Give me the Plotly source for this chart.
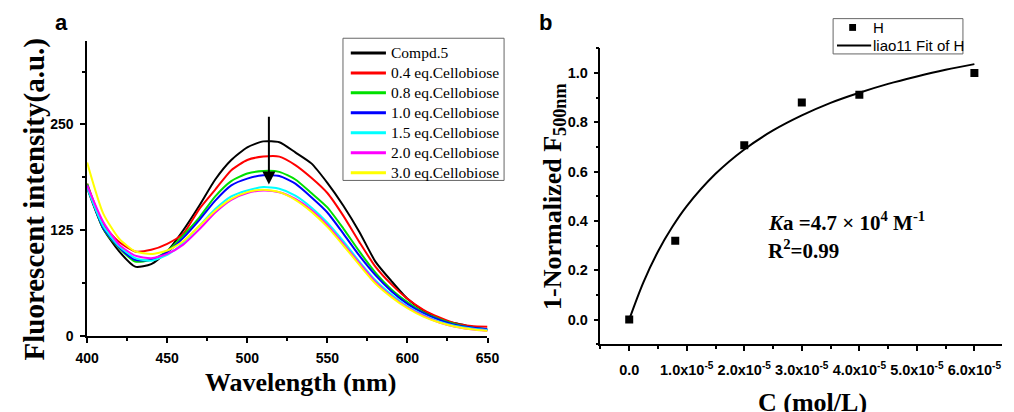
import plotly.graph_objects as go

# ---------------- Panel a data ----------------
wavelength = [400, 410, 420, 430, 440, 450, 460, 470, 480, 490, 500, 510, 520, 530,
              540, 550, 560, 570, 580, 590, 600, 610, 620, 630, 640, 650]
compd5 = [175, 127, 100, 82, 85, 100, 125, 154, 185, 208, 223, 230, 229, 217,
          204, 181, 154, 123, 88, 65, 44, 30, 20, 15, 11, 7]
eq04 = [180, 132, 111, 100, 102, 109, 121, 150, 173, 196, 208, 212, 212, 202,
        187, 169, 142, 111, 82, 61, 44, 31, 22, 15, 12, 11]
eq08 = [180, 127, 104, 88, 90, 100, 119, 140, 165, 183, 192, 195, 194, 185,
        169, 152, 127, 100, 75, 55, 40, 28, 20, 14, 10, 8]
eq10 = [178, 128, 105, 90, 90, 99, 116, 137, 160, 178, 186, 190, 189, 180,
        164, 146, 121, 95, 72, 53, 38, 27, 19, 13, 10, 8]
eq15 = [175, 130, 106, 92, 89, 96, 110, 130, 150, 165, 172, 176, 174, 166,
        152, 134, 112, 88, 66, 49, 35, 25, 17, 12, 9, 7]
eq20 = [178, 135, 108, 95, 92, 97, 108, 126, 146, 161, 169, 172, 170, 162,
        149, 131, 109, 86, 64, 47, 34, 24, 16, 11, 8, 6]
eq30 = [205, 145, 115, 100, 97, 101, 112, 130, 148, 162, 170, 173, 170, 161,
        147, 129, 107, 84, 62, 46, 33, 23, 16, 11, 8, 6]
series_names = ["Compd.5", "0.4 eq.Cellobiose", "0.8 eq.Cellobiose", "1.0 eq.Cellobiose",
                "1.5 eq.Cellobiose", "2.0 eq.Cellobiose", "3.0 eq.Cellobiose"]
series_values = [compd5, eq04, eq08, eq10, eq15, eq20, eq30]
series_colors = ["#000000", "#ff0000", "#00e000", "#0000ff", "#00ffff", "#ff00ff", "#ffff00"]
a_xticks = [400, 450, 500, 550, 600, 650]
a_yticks = [0, 125, 250]

# ---------------- Panel b data ----------------
conc = [0.0, 0.8e-5, 2.0e-5, 3.0e-5, 4.0e-5, 6.0e-5]
resp = [0.0, 0.32, 0.707, 0.88, 0.912, 1.0]
fit_x = [0, 0.25e-5, 0.5e-5, 0.75e-5, 1.0e-5, 1.5e-5, 2.0e-5, 2.5e-5, 3.0e-5,
         3.5e-5, 4.0e-5, 4.5e-5, 5.0e-5, 5.5e-5, 6.0e-5]
fit_y = [0, 0.153, 0.276, 0.376, 0.46, 0.591, 0.69, 0.767, 0.828,
         0.879, 0.92, 0.956, 0.986, 1.013, 1.036]
b_xticks = [0, 1e-5, 2e-5, 3e-5, 4e-5, 5e-5, 6e-5]
b_xticktext = ["0.0", "1.0x10<sup>-5</sup>", "2.0x10<sup>-5</sup>", "3.0x10<sup>-5</sup>",
               "4.0x10<sup>-5</sup>", "5.0x10<sup>-5</sup>", "6.0x10<sup>-5</sup>"]
b_yticks = [0.0, 0.2, 0.4, 0.6, 0.8, 1.0]
b_legend_names = ["H", "liao11 Fit of H"]

SERIF = "Liberation Serif, Times New Roman, serif"
SANS = "Liberation Sans, Arial, sans-serif"
W, H = 1014, 412


def px(x):
    return x / W


def py(y):
    return 1 - y / H


fig = go.Figure()

for name, vals, col in zip(series_names, series_values, series_colors):
    fig.add_trace(go.Scatter(x=wavelength, y=vals, mode="lines", name=name,
                             line=dict(color=col, width=2, shape="spline", smoothing=0.6),
                             xaxis="x", yaxis="y", showlegend=False))

fig.add_trace(go.Scatter(x=conc, y=resp, mode="markers", name=b_legend_names[0],
                         marker=dict(symbol="square", size=8, color="black"),
                         xaxis="x2", yaxis="y2", showlegend=False))
fig.add_trace(go.Scatter(x=fit_x, y=fit_y, mode="lines", name=b_legend_names[1],
                         line=dict(color="black", width=2, shape="spline"),
                         xaxis="x2", yaxis="y2", showlegend=False))

tickfont = dict(family=SANS, size=14, color="black", weight="bold")
tickfont_b = dict(family=SANS, size=14.5, color="black", weight="bold")
axis_common = dict(showgrid=False, zeroline=False, showline=True, linecolor="black",
                   linewidth=1.5, ticks="outside", ticklen=5, tickwidth=1.5,
                   tickcolor="black", mirror=False)

fig.update_layout(
    width=W, height=H,
    margin=dict(l=0, r=0, t=0, b=0),
    paper_bgcolor="white", plot_bgcolor="white",
    showlegend=False,
    xaxis=dict(domain=[0.0759, 0.4803], range=[400, 650], tickvals=a_xticks,
               ticklabelstandoff=3, tickfont=tickfont,
               minor=dict(dtick=25, tick0=400, ticks="outside", ticklen=3, tickcolor="black"),
               anchor="y", **axis_common),
    yaxis=dict(domain=[0.1682, 0.8981], range=[0, 348.4], tickvals=a_yticks,
               ticklabelstandoff=4, tickfont=tickfont,
               minor=dict(dtick=62.5, tick0=0, ticks="outside", ticklen=3, tickcolor="black"),
               anchor="x", **axis_common),
    xaxis2=dict(domain=[0.5944, 1.0], range=[-0.5e-5, 6.48e-5], tickvals=b_xticks,
                ticktext=b_xticktext, ticklabelstandoff=7, tickfont=tickfont_b,
                minor=dict(dtick=0.5e-5, tick0=0, ticks="outside", ticklen=3, tickcolor="black"),
                anchor="y2", **axis_common),
    yaxis2=dict(domain=[0.1481, 0.8803], range=[-0.1, 1.1], tickvals=b_yticks,
                tickformat=".1f", ticklabelstandoff=3, tickfont=tickfont_b,
                minor=dict(dtick=0.1, tick0=0, ticks="outside", ticklen=3, tickcolor="black"),
                anchor="x2", **axis_common),
)

shapes = []
annots = []

# ---- legend panel a (drawn box + samples + real text) ----
shapes.append(dict(type="rect", xref="paper", yref="paper", x0=px(339), x1=px(504),
                   y0=py(184), y1=py(39), line=dict(color="#666666", width=1),
                   fillcolor="white", layer="above"))
row0, rowgap = 54, 20.35
for i, (name, col) in enumerate(zip(series_names, series_colors)):
    yy = row0 + i * rowgap
    shapes.append(dict(type="line", xref="paper", yref="paper", x0=px(347), x1=px(383),
                       y0=py(yy), y1=py(yy), line=dict(color=col, width=3), layer="above"))
    annots.append(dict(text=name, x=px(386), y=py(yy), xref="paper", yref="paper",
                       xanchor="left", yanchor="middle", showarrow=False,
                       font=dict(family=SERIF, size=15.5, color="black")))

# ---- legend panel b ----
shapes.append(dict(type="rect", xref="paper", yref="paper", x0=px(841), x1=px(974),
                   y0=py(55), y1=py(19), line=dict(color="#666666", width=1),
                   fillcolor="white", layer="above"))
shapes.append(dict(type="rect", xref="paper", yref="paper", x0=px(857.5), x1=px(864.5),
                   y0=py(31.5), y1=py(24.5), line=dict(color="black", width=0),
                   fillcolor="black", layer="above"))
shapes.append(dict(type="line", xref="paper", yref="paper", x0=px(845), x1=px(880),
                   y0=py(46.5), y1=py(46.5), line=dict(color="black", width=2), layer="above"))
for name, yy in zip(b_legend_names, [28, 46.5]):
    annots.append(dict(text=name, x=px(880), y=py(yy), xref="paper", yref="paper",
                       xanchor="left", yanchor="middle", showarrow=False,
                       font=dict(family=SANS, size=15, color="black")))

annots += [
    dict(text="<b>a</b>", x=px(51), y=py(23), xref="paper", yref="paper",
         xanchor="center", yanchor="middle", showarrow=False,
         font=dict(family=SANS, size=22, color="black")),
    dict(text="<b>b</b>", x=px(546), y=py(23), xref="paper", yref="paper",
         xanchor="center", yanchor="middle", showarrow=False,
         font=dict(family=SANS, size=22, color="black")),
    dict(text="<b>Wavelength (nm)</b>", x=px(296), y=py(390), xref="paper", yref="paper",
         xanchor="center", yanchor="middle", showarrow=False,
         font=dict(family=SERIF, size=26, color="black")),
    dict(text="<b>Fluorescent intensity(a.u.)</b>", x=px(23), y=py(203),
         xref="paper", yref="paper", xanchor="center", yanchor="middle", textangle=-90,
         showarrow=False, font=dict(family=SERIF, size=29, color="black")),
    dict(text="<b>1-Normalized F<sub>500nm</sub></b>", x=px(555), y=py(200),
         xref="paper", yref="paper", xanchor="center", yanchor="middle", textangle=-90,
         showarrow=False, font=dict(family=SERIF, size=26, color="black")),
    dict(text="<b>C (mol/L)</b>", x=px(820), y=py(394), xref="paper", yref="paper",
         xanchor="center", yanchor="top", showarrow=False,
         font=dict(family=SERIF, size=26, color="black")),
    dict(text="<b><i>K</i>a =4.7 × 10<sup>4</sup> M<sup>-1</sup></b>", x=px(772), y=py(242),
         xref="paper", yref="paper", xanchor="left", yanchor="bottom", showarrow=False,
         font=dict(family=SERIF, size=21, color="black")),
    dict(text="<b>R<sup>2</sup>=0.99</b>", x=px(772), y=py(270),
         xref="paper", yref="paper", xanchor="left", yanchor="bottom", showarrow=False,
         font=dict(family=SERIF, size=21, color="black")),
    dict(text="", x=513.5, y=179, ax=513.5, ay=261, xref="x", yref="y", axref="x", ayref="y",
         showarrow=True, arrowhead=2, arrowsize=1.3, arrowwidth=2, arrowcolor="black"),
]
fig.update_layout(annotations=annots, shapes=shapes)

fig.write_html("out.html")
